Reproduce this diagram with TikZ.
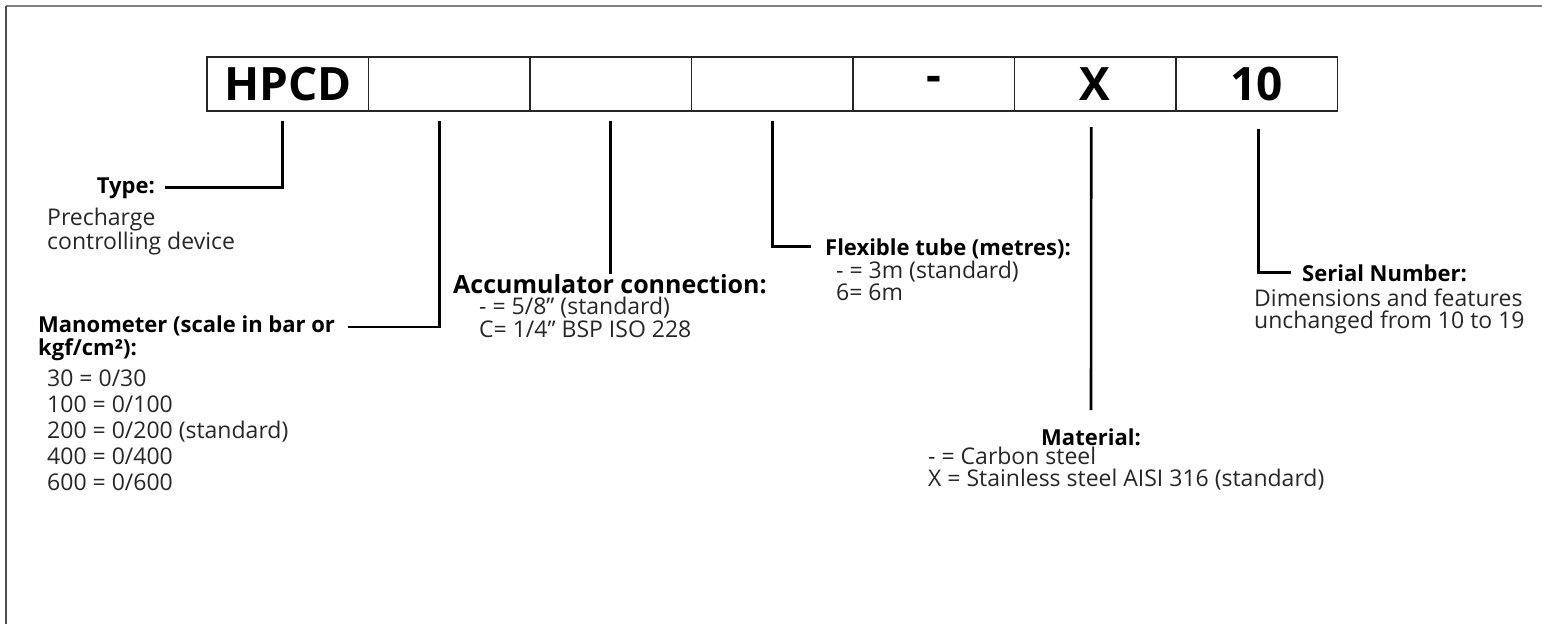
\documentclass[tikz,border=0pt]{standalone}
\usepackage{fontspec}
\setmainfont{Open Sans}
\usetikzlibrary{positioning}

\tikzset{
    cell/.style={draw=black!85, line width=1.2pt, minimum width=161.5pt, minimum height=54pt,
        inner sep=0pt, outer sep=0pt, font=\fontsize{46}{46}\selectfont\bfseries},
    head/.style={inner sep=0pt, align=left, font=\fontsize{22}{23}\selectfont\bfseries},
    txt/.style={inner sep=0pt, align=left, text=black!85, font=\fontsize{23}{22}\selectfont},
    lead/.style={line width=2.6pt},
}

\begin{document}
\begin{tikzpicture}[x=1pt, y=-1pt]
    \useasboundingbox (0,0) rectangle (1542,624);
    \draw[black!50, line width=2pt] (6,6) -- (1542,6);
    \draw[black!70, line width=1.6pt] (6,6) -- (6,624);

    % code boxes
    \node[cell] (c1) at (287.75,84) {HPCD};
    \node[cell, right=0pt of c1] (c2) {};
    \node[cell, right=0pt of c2] (c3) {};
    \node[cell, right=0pt of c3] (c4) {};
    \node[cell, right=0pt of c4] (c5) {-};
    \node[cell, right=0pt of c5] (c6) {X};
    \node[cell, right=0pt of c6] (c7) {10};

    % labels
    \node[head, anchor=base east] (type) at (155,193) {Type:};
    \node[txt, anchor=north west] (typetxt) at (47,208) {Precharge\\controlling device};

    \node[head, anchor=north west] (mano) at (38,316) {Manometer (scale in bar or\\kgf/cm²):};
    \node[txt, anchor=north west, font=\fontsize{23}{26}\selectfont] (manotxt) at (47,370)
        {30 = 0/30\\100 = 0/100\\200 = 0/200 (standard)\\400 = 0/400\\600 = 0/600};

    \node[head, anchor=north, font=\fontsize{25}{25}\selectfont\bfseries] (acc) at (610,274) {Accumulator connection:};
    \node[txt, anchor=north west, font=\fontsize{23}{23}\selectfont] (acctxt) at (479,297)
        {- = 5/8” (standard)\\C= 1/4” BSP ISO 228};

    \node[head, anchor=base west] (flex) at (825,255) {Flexible tube (metres):};
    \node[txt, anchor=north west] (flextxt) at (836,261) {- = 3m (standard)\\6= 6m};

    \node[head, anchor=base] (mat) at (1091,445) {Material:};
    \node[txt, anchor=north west] (mattxt) at (928,447)
        {- = Carbon steel\\X = Stainless steel AISI 316 (standard)};

    \node[head, anchor=base west] (serial) at (1302,281) {Serial Number:};
    \node[txt, anchor=north west] (serialtxt) at (1254,289)
        {Dimensions and features\\unchanged from 10 to 19};

    % leaders
    \draw[lead] ([xshift=-5pt,yshift=-10pt]c1.south) |- ([xshift=10pt]type.east);
    \draw[lead] ([xshift=-10pt,yshift=-10pt]c2.south) |- ([xshift=13pt,yshift=-11pt]mano.north east);
    \draw[lead] ([yshift=-10pt]c3.south) -- (c3.south |- acc.north);
    \draw[lead] ([yshift=-10pt]c4.south) |- ([xshift=-14pt,yshift=2pt]flex.west);
    \draw[lead] ([xshift=-4pt,yshift=-16pt]c6.south) -- ([yshift=18pt]mat.north);
    \draw[lead] ([xshift=2pt,yshift=-18pt]c7.south) |- ([xshift=-11pt]serial.west);
\end{tikzpicture}
\end{document}
